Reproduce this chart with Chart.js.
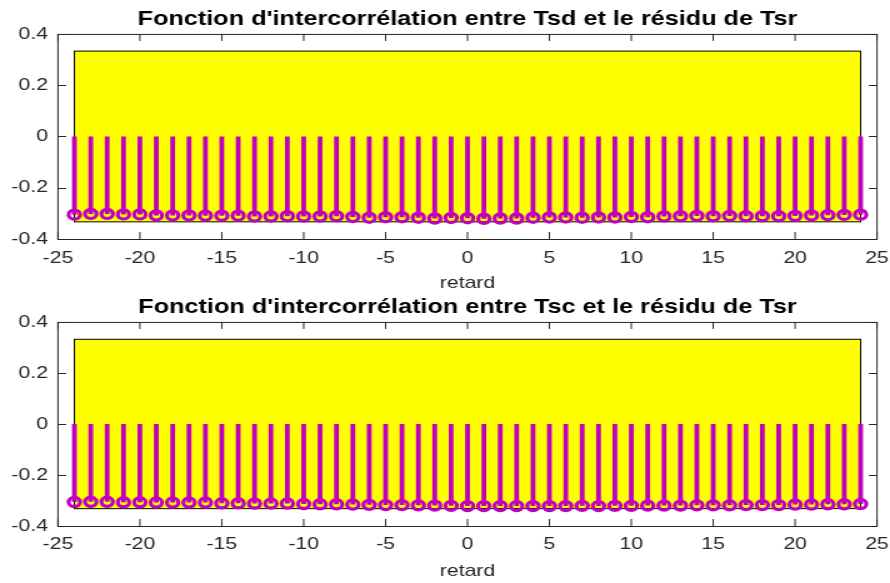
<!DOCTYPE html>
<html>
<head>
<meta charset="utf-8">
<script src="https://cdn.jsdelivr.net/npm/chart.js@4.4.1/dist/chart.umd.min.js"></script>
<style>
  html, body { margin: 0; padding: 0; background: #fff; overflow: hidden; }
  #wrap { position: relative; width: 890px; height: 583px; }
  /* figure is stretched horizontally, so draw narrow and scale out */
  canvas { position: absolute; left: 0; transform: scaleX(1.25); transform-origin: 0 0; }
  #top { top: 0; }
  #bottom { top: 290px; }
</style>
</head>
<body>
<div id="wrap">
  <canvas id="top" width="712" height="290"></canvas>
  <canvas id="bottom" width="712" height="293"></canvas>
</div>
<script>
// lags of the cross-correlation
var lags = [-24, -23, -22, -21, -20, -19, -18, -17, -16, -15, -14, -13, -12, -11, -10, -9, -8, -7, -6, -5, -4, -3, -2, -1,
            0, 1, 2, 3, 4, 5, 6, 7, 8, 9, 10, 11, 12, 13, 14, 15, 16, 17, 18, 19, 20, 21, 22, 23, 24]

// Tsd vs residual of Tsr
var corrTsd = [-0.305, -0.302, -0.302, -0.304, -0.304, -0.308, -0.308, -0.308, -0.309, -0.309, -0.309, -0.312, -0.312,
               -0.311, -0.312, -0.312, -0.311, -0.314, -0.317, -0.315, -0.315, -0.317, -0.320, -0.318, -0.319,
               -0.321, -0.320, -0.320, -0.317, -0.316, -0.316, -0.317, -0.316, -0.316, -0.314, -0.315, -0.312,
               -0.311, -0.310, -0.311, -0.310, -0.311, -0.311, -0.311, -0.310, -0.308, -0.307, -0.306, -0.305]

// Tsc vs residual of Tsr
var corrTsc = [-0.306, -0.305, -0.305, -0.307, -0.307, -0.308, -0.308, -0.308, -0.308, -0.311, -0.311, -0.312, -0.312,
               -0.312, -0.314, -0.315, -0.315, -0.316, -0.317, -0.318, -0.318, -0.319, -0.320, -0.321, -0.322,
               -0.322, -0.322, -0.322, -0.322, -0.322, -0.322, -0.321, -0.322, -0.321, -0.321, -0.320, -0.320,
               -0.320, -0.319, -0.319, -0.319, -0.318, -0.318, -0.318, -0.316, -0.316, -0.315, -0.315, -0.314]

// confidence band: lag range and lower/upper limits
var bandLags = [-24, 24]
var bandTsd = [-0.333, 0.333]
var bandTsc = [-0.332, 0.332]

var xTicks = [-25, -20, -15, -10, -5, 0, 5, 10, 15, 20, 25]
var yTicks = [-0.4, -0.2, 0, 0.2, 0.4]

Chart.defaults.font.family = "'Liberation Sans', Arial, sans-serif"
Chart.defaults.color = '#262626'

var MAGENTA = '#BF00BF'

// yellow band behind the stems
var bandPlugin = {
    id: 'band',
    beforeDatasetsDraw: function(chart, args, opts){
        var ctx = chart.ctx, x = chart.scales.x, y = chart.scales.y
        var x0 = x.getPixelForValue(bandLags[0]), x1 = x.getPixelForValue(bandLags[1])
        var y0 = y.getPixelForValue(opts.limits[1]), y1 = y.getPixelForValue(opts.limits[0])
        ctx.save()
        ctx.fillStyle = '#FFFF00'
        ctx.fillRect(x0, y0, x1 - x0, y1 - y0)
        ctx.strokeStyle = '#000'
        ctx.lineWidth = 1
        ctx.strokeRect(x0, y0, x1 - x0, y1 - y0)
        ctx.restore()
    }
}

// box around the axes with inward ticks on every side
var framePlugin = {
    id: 'frame',
    afterDraw: function(chart){
        var ctx = chart.ctx, a = chart.chartArea, x = chart.scales.x, y = chart.scales.y
        ctx.save()
        ctx.strokeStyle = '#262626'
        ctx.lineWidth = 1
        ctx.strokeRect(a.left, a.top + 0.5, a.right - a.left, a.bottom - a.top)
        ctx.beginPath()
        xTicks.forEach(function(v){
            var px = x.getPixelForValue(v)
            ctx.moveTo(px, a.bottom); ctx.lineTo(px, a.bottom - 7)
            ctx.moveTo(px, a.top); ctx.lineTo(px, a.top + 7)
        })
        yTicks.forEach(function(v){
            var py = Math.round(y.getPixelForValue(v)) + 0.5
            ctx.moveTo(a.left, py); ctx.lineTo(a.left + 6.5, py)
            ctx.moveTo(a.right, py); ctx.lineTo(a.right - 6.5, py)
        })
        ctx.stroke()
        ctx.restore()
    }
}

function makeStem(id, title, values, limits, titlePad, axisHeight, labelPad, xTitlePad){
    var stems = []
    var heads = []
    for(var i = 0 ; i < lags.length ; i++){
        stems.push({x: lags[i], y: 0})
        stems.push({x: lags[i], y: values[i]})
        stems.push({x: lags[i], y: null})
        heads.push({x: lags[i], y: values[i]})
    }
    return new Chart(document.getElementById(id), {
        type: 'line',
        plugins: [bandPlugin, framePlugin],
        data: {
            datasets: [{
                data: stems,
                borderColor: MAGENTA,
                borderWidth: 3.8,
                borderCapStyle: 'butt',
                pointRadius: 0,
                spanGaps: false,
                tension: 0
            }, {
                data: heads,
                showLine: false,
                pointStyle: 'circle',
                pointRadius: 4.6,
                pointBorderWidth: 3.2,
                pointBorderColor: MAGENTA,
                pointBackgroundColor: 'rgba(0,0,0,0)'
            }]
        },
        options: {
            responsive: false,
            animation: false,
            events: [],
            layout: { autoPadding: false, padding: { left: 0, right: 10.4, top: 0, bottom: 0 } },
            scales: {
                x: {
                    type: 'linear',
                    min: -25,
                    max: 25,
                    grid: { display: false, drawTicks: false },
                    border: { display: false },
                    afterBuildTicks: function(s){ s.ticks = xTicks.map(function(v){ return {value: v} }) },
                    afterFit: function(s){
                        s.height = axisHeight
                        s.paddingLeft = 0
                        s.paddingRight = 0
                    },
                    ticks: { padding: labelPad, color: '#262626', font: { size: 17 } },
                    title: { display: true, text: 'retard', color: '#262626', font: { size: 17 }, padding: { top: 0, bottom: xTitlePad } }
                },
                y: {
                    min: -0.4,
                    max: 0.4,
                    grid: { display: false, drawTicks: false },
                    border: { display: false },
                    afterBuildTicks: function(s){ s.ticks = yTicks.map(function(v){ return {value: v} }) },
                    afterFit: function(s){ s.width = 46.4 },
                    ticks: { padding: 8, color: '#262626', font: { size: 17 } }
                }
            },
            plugins: {
                legend: { display: false },
                tooltip: { enabled: false },
                band: { limits: limits },
                title: {
                    display: true,
                    fullSize: false,
                    text: title,
                    color: '#000',
                    font: { size: 20.2, weight: 'bold' },
                    padding: titlePad
                }
            }
        }
    })
}

makeStem('top', "Fonction d'intercorrélation entre Tsd et le résidu de Tsr", corrTsd, bandTsd, { top: 7.8, bottom: 1.9 }, 51, 9, -4)
makeStem('bottom', "Fonction d'intercorrélation entre Tsc et le résidu de Tsr", corrTsc, bandTsc, { top: 5.5, bottom: 2.2 }, 57, 8.5, 1)
</script>
</body>
</html>
